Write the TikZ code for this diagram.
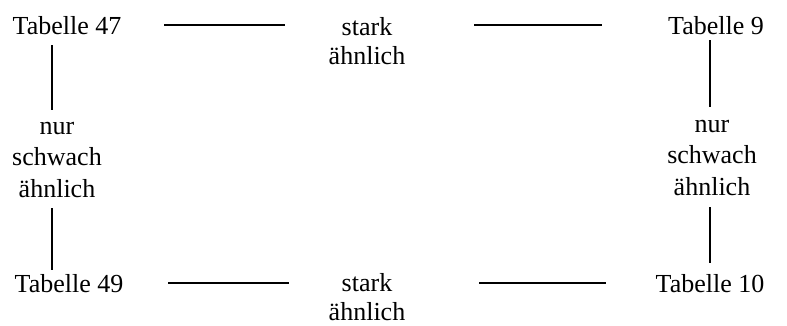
\documentclass[tikz,border=0pt]{standalone}
\usepackage{fontspec}
\setmainfont{Liberation Serif}
\usetikzlibrary{calc}
\begin{document}
\begin{tikzpicture}[x=1pt,y=-1pt,
  lbl/.style={inner sep=0pt,outer sep=0pt,anchor=base,font=\fontsize{26}{30}\selectfont},
  stack/.style={inner sep=0pt,outer sep=0pt,anchor=base,align=center,font=\fontsize{26}{31.5}\selectfont},
  pair/.style={inner sep=0pt,outer sep=0pt,anchor=base,align=center,font=\fontsize{26}{29}\selectfont},
  conn/.style={draw=black,line width=1.4pt}]
\useasboundingbox (0,0) rectangle (787,325);
\node[lbl] (t47) at (67,34) {Tabelle 47};
\node[pair] (s1) at (367,64) {stark\\ähnlich};
\node[lbl] (t9) at (716,34) {Tabelle 9};
\node[stack] (ls) at (57,197) {nur\\schwach\\ähnlich};
\node[stack] (rs) at (712,195) {nur\\schwach\\ähnlich};
\node[lbl] (t49) at (69,292) {Tabelle 49};
\node[pair] (s2) at (367,320.5) {stark\\ähnlich};
\node[lbl] (t10) at (710,292) {Tabelle 10};
% horizontal connectors
\draw[conn,shorten <=43pt,shorten >=44pt] (t47.east) -- (t47.east -| s1.west);
\draw[conn,shorten <=69pt,shorten >=66pt] (t9.west -| s1.east) -- (t9.west);
\draw[conn,shorten <=45pt,shorten >=40pt] (t49.east) -- (t49.east -| s2.west);
\draw[conn,shorten <=74pt,shorten >=50pt] (t10.west -| s2.east) -- (t10.west);
% vertical connectors
\draw[conn,shorten <=11pt,shorten >=12pt] ($(t47.south -| ls.north)+(-5,0)$) -- ($(ls.north)+(-5,0)$);
\draw[conn,shorten <=11pt,shorten >=4pt] ($(ls.south)+(-5,0)$) -- ($(t49.north -| ls.south)+(-5,0)$);
\draw[conn,shorten <=6pt,shorten >=13pt] ($(t9.south -| rs.north)+(-2,0)$) -- ($(rs.north)+(-2,0)$);
\draw[conn,shorten <=12pt,shorten >=11pt] ($(rs.south)+(-2,0)$) -- ($(t10.north -| rs.south)+(-2,0)$);
\end{tikzpicture}
\end{document}
